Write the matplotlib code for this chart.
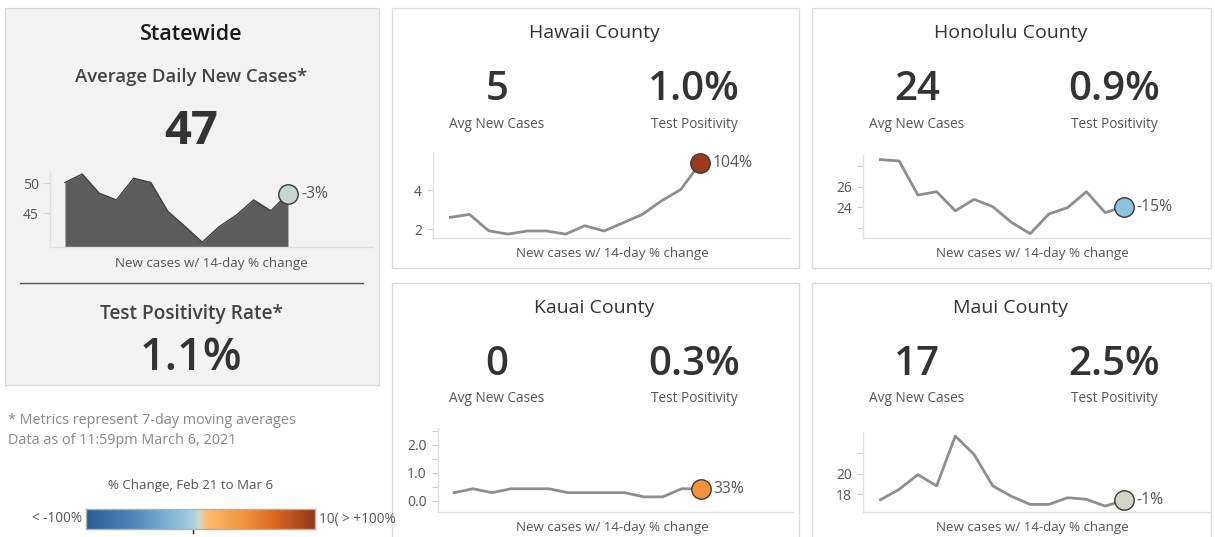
import numpy as np
import matplotlib
matplotlib.use("Agg")
import matplotlib.pyplot as plt
from matplotlib.patches import Rectangle
from matplotlib.colors import LinearSegmentedColormap

plt.rcParams['font.family'] = ['Open Sans', 'DejaVu Sans']

# ---------------- data ----------------
days = list(range(14))  # Feb 21 .. Mar 6
statewide_cases = [50.1, 51.5, 48.3, 47.2, 50.8, 50.1, 45.3, 42.8, 40.2, 42.8, 44.7, 47.2, 45.4, 48.2]
hawaii_cases = [2.60, 2.75, 1.91, 1.74, 1.90, 1.90, 1.74, 2.17, 1.90, 2.32, 2.75, 3.45, 4.03, 5.37]
honolulu_cases = [28.65, 28.52, 25.19, 25.52, 23.65, 24.77, 24.06, 22.52, 21.42, 23.35, 23.97, 25.52, 23.48, 24.06]
kauai_cases = [0.29, 0.43, 0.29, 0.43, 0.43, 0.43, 0.29, 0.29, 0.29, 0.29, 0.14, 0.14, 0.43, 0.43]
maui_cases = [17.48, 18.48, 19.90, 18.81, 23.61, 21.84, 18.81, 17.81, 17.03, 17.03, 17.68, 17.52, 16.87, 17.42]

pct_change = {"Statewide": "-3%", "Hawaii": "104%", "Honolulu": "-15%", "Kauai": "33%", "Maui": "-1%"}
avg_new = {"Statewide": "47", "Hawaii": "5", "Honolulu": "24", "Kauai": "0", "Maui": "17"}
positivity = {"Statewide": "1.1%", "Hawaii": "1.0%", "Honolulu": "0.9%", "Kauai": "0.3%", "Maui": "2.5%"}
marker_colors = {"Statewide": "#c8d4d0", "Hawaii": "#9c3a1d", "Honolulu": "#8fc1e1",
                 "Kauai": "#f4933a", "Maui": "#d4d3ca"}

cbar_colors = [(0.0, "#2a5d95"), (0.2, "#4e85b9"), (0.4, "#8bbddc"), (0.47, "#a9d1e4"),
               (0.5, "#ddd4c2"), (0.53, "#fcbd6c"), (0.7, "#f2903a"), (0.82, "#dc6a20"),
               (1.0, "#963519")]

# ---------------- figure ----------------
W, H = 1215, 537
fig = plt.figure(figsize=(W / 100, H / 100), dpi=100)
fig.patch.set_facecolor("white")

bg = fig.add_axes([0, 0, 1, 1])
bg.set_xlim(0, W)
bg.set_ylim(H, 0)
bg.axis("off")


def pix_axes(l, t, r, b):
    return fig.add_axes([l / W, 1 - b / H, (r - l) / W, (b - t) / H])


def box(l, t, r, b, fc):
    bg.add_patch(Rectangle((l, t), r - l, b - t, facecolor=fc, edgecolor="#dcdcdc", lw=1.0))


DARK = "#333333"
MID = "#555555"
LIGHT = "#888888"

# ---------------- Statewide panel ----------------
box(5, 8, 379, 385, "#f3f3f3")
bg.text(191, 34, "Statewide", ha="center", va="center", fontsize=15.5, fontweight="semibold", color="#1a1a1a")
bg.text(191, 77, "Average Daily New Cases*", ha="center", va="center", fontsize=13.3,
        fontweight="semibold", color="#444444")
bg.text(191, 132, avg_new["Statewide"], ha="center", va="center", fontsize=34, fontweight="bold", color=DARK)
bg.plot([20, 363], [283, 283], color=MID, lw=1)
bg.text(191, 314, "Test Positivity Rate*", ha="center", va="center", fontsize=13.8,
        fontweight="semibold", color="#444444")
bg.text(191, 358, positivity["Statewide"], ha="center", va="center", fontsize=32.5,
        fontweight="semibold", color=DARK)
bg.text(211, 263, "New cases w/ 14-day % change", ha="center", va="center", fontsize=9.6, color=MID)

bg.text(8, 420, "* Metrics represent 7-day moving averages", ha="left", va="center", fontsize=10.4, color=LIGHT)
bg.text(8, 441, "Data as of 11:59pm March 6, 2021", ha="left", va="center", fontsize=10.4, color=LIGHT)
bg.text(191, 485, "% Change, Feb 21 to Mar 6", ha="center", va="center", fontsize=9.5, color=MID)
bg.text(82, 519, "< -100%", ha="right", va="center", fontsize=9.8, color=MID)
bg.text(319, 519, "10( > +100%", ha="left", va="center", fontsize=9.8, color=MID)


def style_spark(ax):
    ax.set_facecolor("none")
    for s in ["top", "right"]:
        ax.spines[s].set_visible(False)
    for s in ["left", "bottom"]:
        ax.spines[s].set_color("#e0e0e0")
        ax.spines[s].set_linewidth(1)
    ax.set_xticks([])
    ax.tick_params(axis="y", length=4, color="#d0d0d0", labelsize=10, labelcolor=MID, pad=4)


def end_marker(ax, x, y, key):
    ax.plot([x], [y], marker="o", ms=14, mfc=marker_colors[key], mec="#3a3a3a", mew=1.0,
            clip_on=False, zorder=5)
    ax.annotate(pct_change[key], (x, y), xytext=(13, 0), textcoords="offset pixels",
                ha="left", va="center", fontsize=11.3, color=MID, annotation_clip=False)


# statewide area chart
ax = pix_axes(50, 171, 373, 247)
style_spark(ax)
ax.set_xlim(-0.875, 17.96)
ax.set_ylim(39.4, 52)
ax.fill_between(days, 39.4, statewide_cases, color="#5c5c5c", lw=0)
ax.plot(days, statewide_cases, color="#3f3f3f", lw=1)
ax.set_yticks([45, 50])
end_marker(ax, days[-1], statewide_cases[-1], "Statewide")

# colorbar
cmap = LinearSegmentedColormap.from_list("div", cbar_colors)
cax = pix_axes(86, 509, 315, 529)
cax.imshow(np.linspace(0, 1, 256)[None, :], aspect="auto", cmap=cmap, extent=[-100, 100, 0, 1])
for s in cax.spines.values():
    s.set_color("#b0b0b0")
    s.set_linewidth(1)
cax.set_xticks([])
cax.set_yticks([])
bg.plot([193, 193], [528, 533], color="#222222", lw=1)

# ---------------- County panels ----------------
counties = [
    # key, title, box (l,t,r,b), axes (l,t,r,b), xlim, ylim, ticks, ticklabels, data
    ("Hawaii", "Hawaii County", (392, 8, 799, 268), (433, 152, 790, 238), (-0.9, 17.68), (1.54, 5.95),
     [2, 4], ["2", "4"], hawaii_cases),
    ("Honolulu", "Honolulu County", (812, 8, 1211, 268), (863, 155, 1210, 238), (-0.93, 17.6), (21.0, 29.1),
     [22, 24, 26, 28], ["", "24", "26", ""], honolulu_cases),
    ("Kauai", "Kauai County", (392, 283, 799, 545), (438, 428, 793, 512), (-0.85, 17.87), (-0.4, 2.6),
     [0, 0.5, 1, 1.5, 2, 2.5], ["0.0", "", "1.0", "", "2.0", ""], kauai_cases),
    ("Maui", "Maui County", (812, 283, 1211, 545), (863, 432, 1210, 512), (-0.93, 17.6), (16.3, 24.0),
     [18, 20, 22], ["18", "20", ""], maui_cases),
]

for key, title, (l, t, r, b), (al, at, ar, ab), xl, yl, ticks, tlabels, data in counties:
    box(l, t, r, b, "white")
    cx = (l + r) / 2
    bg.text(cx - 1, t + 25, title, ha="center", va="center", fontsize=14, color=DARK)
    bg.text(l + 105, t + 82, avg_new[key], ha="center", va="center", fontsize=29, fontweight="semibold", color=DARK)
    bg.text(l + 302, t + 82, positivity[key], ha="center", va="center", fontsize=29, fontweight="semibold", color=DARK)
    bg.text(l + 105, t + 116, "Avg New Cases", ha="center", va="center", fontsize=9.8, color=MID)
    bg.text(l + 302, t + 116, "Test Positivity", ha="center", va="center", fontsize=9.8, color=MID)
    bg.text(l + 220, t + 245, "New cases w/ 14-day % change", ha="center", va="center", fontsize=9.6, color=MID)

    ax = pix_axes(al, at, ar, ab)
    style_spark(ax)
    ax.set_xlim(*xl)
    ax.set_ylim(*yl)
    ax.plot(days, data, color="#8e8e8e", lw=2)
    ax.set_yticks(ticks)
    ax.set_yticklabels(tlabels)
    end_marker(ax, days[-1], data[-1], key)

fig.savefig("out.png", dpi=100, facecolor="white")
